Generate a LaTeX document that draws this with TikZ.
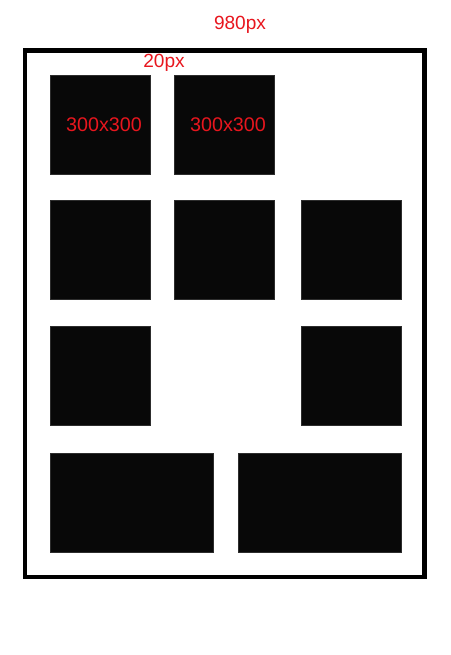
\documentclass[tikz,border=0pt]{standalone}
\usepackage{fontspec}
\setmainfont{Liberation Sans}
\definecolor{lblred}{RGB}{232,22,30}
\definecolor{boxblack}{RGB}{8,8,8}
\begin{document}
\begin{tikzpicture}[x=0.75pt,y=-0.75pt,
  tile/.style={fill=boxblack,draw={rgb,255:red,45;green,45;blue,45},line width=0.5pt},
  frame/.style={draw=black,line width=3.4pt},
  lbl/.style={text=lblred,inner sep=0pt,font=\fontsize{14.3pt}{17pt}\selectfont},
  biglbl/.style={text=lblred,inner sep=0pt,font=\fontsize{14.8pt}{17pt}\selectfont}]
\useasboundingbox (0,0) rectangle (450,655);
\fill[white] (0,0) rectangle (450,655);
% outer frame
\draw[frame] (25,50.5) rectangle (424.5,577);
% row 1
\draw[tile] (50,75) rectangle (150,174);
\draw[tile] (174,75) rectangle (274,174);
% row 2
\draw[tile] (50,200) rectangle (150,299);
\draw[tile] (174,200) rectangle (274,299);
\draw[tile] (301,200) rectangle (401,299);
% row 3
\draw[tile] (50,326) rectangle (150,425);
\draw[tile] (301,326) rectangle (401,425);
% row 4
\draw[tile] (50,453) rectangle (213,552);
\draw[tile] (238,453) rectangle (401,552);
% labels
\node[lbl] (w) at (240,24.5) {980px};
\node[lbl] (gap) at (164,62.5) {20px};
\node[biglbl] (s1) at (104,125) {300x300};
\node[biglbl] (s2) at (228,125) {300x300};
\end{tikzpicture}
\end{document}
